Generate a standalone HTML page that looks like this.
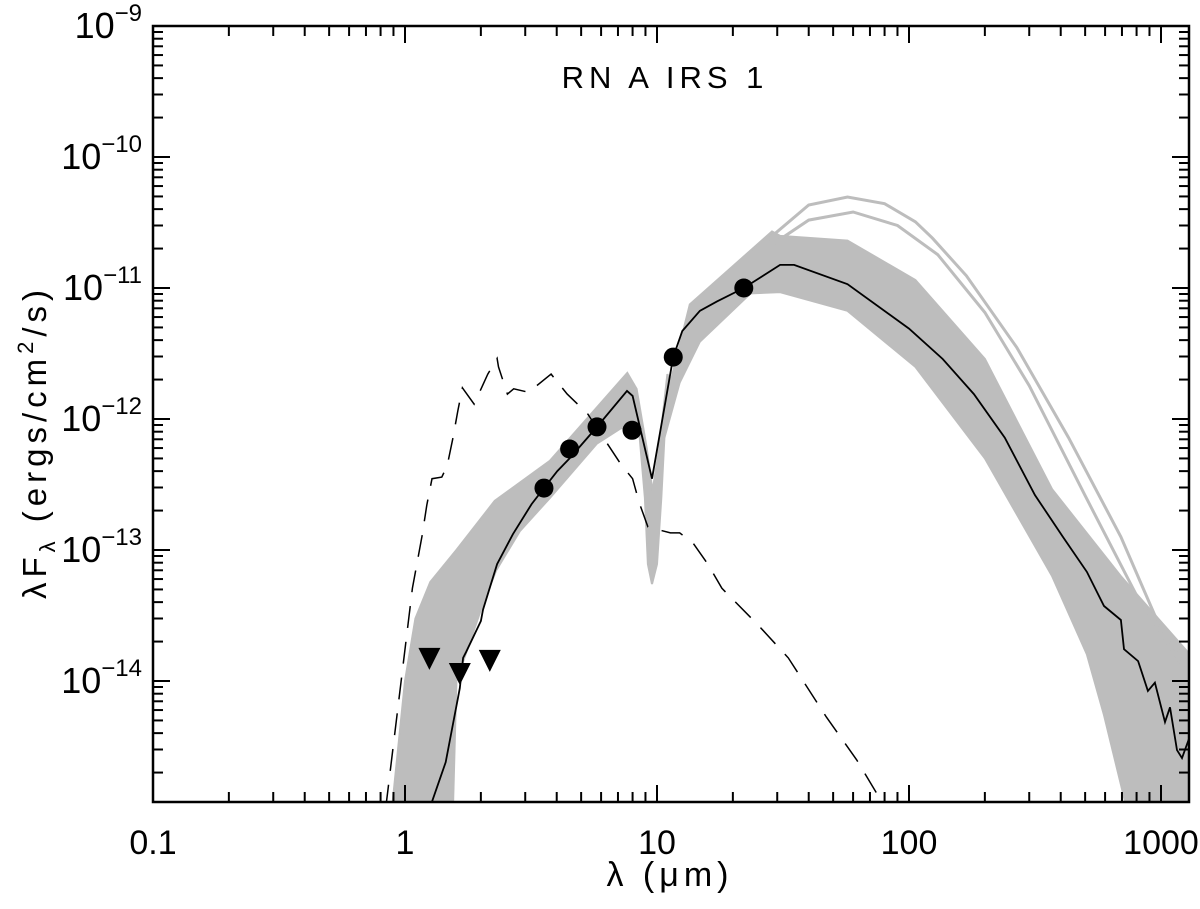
<!DOCTYPE html>
<html><head><meta charset="utf-8"><style>
html,body{margin:0;padding:0;background:#fff;}
svg{display:block;font-family:"Liberation Sans",sans-serif;}
</style></head><body>
<svg id="chart" width="1200" height="909" viewBox="0 0 1200 909" xmlns="http://www.w3.org/2000/svg">
<g id="band"></g>
<g id="outliers"></g>
<g id="dashed"></g>
<g id="best"></g>
<g id="marks"></g>
<g id="axes"></g>
<text x="665" y="88" font-size="31" letter-spacing="5" text-anchor="middle">RN A IRS 1</text>
<text x="670" y="886" font-size="34" letter-spacing="5" text-anchor="middle">λ (μm)</text>
<text transform="translate(46,442) rotate(-90)" font-size="33" letter-spacing="5" text-anchor="middle">λF<tspan font-size="22" dy="9">λ</tspan><tspan dy="-9"> (ergs/cm</tspan><tspan font-size="22" dy="-13">2</tspan><tspan dy="13">/s)</tspan></text>
</svg>
<script>
const NS="http://www.w3.org/2000/svg";
// data
const detLam=[3.56,4.5,5.78,7.96,11.6,22.1];
const detF=[2.97e-13,5.9e-13,8.7e-13,8.2e-13,2.97e-12,1.0e-11];
const ulLam=[1.25,1.65,2.17];
const ulF=[1.5e-14,1.15e-14,1.45e-14];
const bestLam=[1.27,1.45,1.65,1.70,1.75,2.0,2.04,2.32,2.68,3.18,3.56,4.02,4.5,5.78,7.6,8.0,9.55,11.6,12.6,14.8,17.3,22.1,30.8,35,57,100,136,181,240,316,408,508,594,693,713,811,887,946,1037,1086,1157,1211,1303];
const bestF=[1.15e-15,2.4e-15,8.8e-15,1.5e-14,1.67e-14,2.87e-14,3.5e-14,7.8e-14,1.32e-13,2.24e-13,2.97e-13,4.0e-13,5.0e-13,8.7e-13,1.64e-12,1.5e-12,3.5e-13,2.97e-12,4.7e-12,6.7e-12,7.9e-12,1.0e-11,1.5e-11,1.5e-11,1.07e-11,4.9e-12,2.87e-12,1.55e-12,7.2e-13,2.63e-13,1.26e-13,6.8e-14,3.74e-14,2.92e-14,1.75e-14,1.42e-14,8.4e-15,9.7e-15,4.86e-15,6.3e-15,2.97e-15,2.58e-15,3.8e-15];
const dashLam=[0.84,1.07,1.17,1.22,1.28,1.40,1.47,1.55,1.62,1.69,1.88,2.13,2.32,2.35,2.55,2.7,3.09,3.8,4.4,5.3,7.2,8.0,8.5,9.2,11.3,12.3,13.9,15.9,18.1,25.4,33.2,47,62,80];
const dashF=[1.1e-15,5.1e-14,1.3e-13,2.2e-13,3.5e-13,3.6e-13,4.4e-13,7.2e-13,1.15e-12,1.73e-12,1.3e-12,2.2e-12,2.9e-12,2.5e-12,1.55e-12,1.7e-12,1.6e-12,2.2e-12,1.55e-12,1.1e-12,4.5e-13,3.5e-13,2.3e-13,1.5e-13,1.35e-13,1.35e-13,1.13e-13,7.8e-14,5.1e-14,2.63e-14,1.5e-14,5.3e-15,2.5e-15,1.1e-15];
// left part of model band (NIR to silicate dip)
const bandAUpLam=[0.89,1.0,1.1,1.26,1.6,2.27,3.76,7.62,8.1,8.5];
const bandAUpF=[1.1e-15,1.0e-14,3.0e-14,5.7e-14,1.0e-13,2.37e-13,4.8e-13,2.25e-12,1.84e-12,8.0e-13];
const bandALoLam=[1.55,1.6,2.0,2.3,2.86,3.76,5.78,7.2,8.5];
const bandALoF=[1.1e-15,1.0e-14,3.5e-14,7.0e-14,1.4e-13,2.5e-13,6.5e-13,8.5e-13,8.0e-13];
// silicate dip: outer edge then inner edge
const dipOutLam=[8.1,8.5,8.95,9.2,9.55,10.0,10.4,10.7,11.3];
const dipOutF=[1.84e-12,8.0e-13,2.5e-13,7.8e-14,5.5e-14,7.8e-14,2.5e-13,7.2e-13,1.9e-12];
const dipInLam=[11.0,10.2,9.6,9.1,8.3];
const dipInF=[2.2e-12,6.0e-13,2.8e-13,6.0e-13,1.7e-12];
// right part of band
const bandBUpLam=[10.7,11.3,13.5,28.6,30.8,57,106,200,370,693,1300];
const bandBUpF=[7.2e-13,1.9e-12,7.5e-12,2.7e-11,2.5e-11,2.3e-11,1.15e-11,2.87e-12,2.9e-13,6.3e-14,1.6e-14];
const bandBLoLam=[10.7,12.3,14.8,23.5,30.8,57,106,200,370,508,594,728,1300];
const bandBLoF=[7.2e-13,1.9e-12,3.9e-12,9.1e-12,9.3e-12,6.7e-12,2.5e-12,5.0e-13,6.3e-14,1.6e-14,5.5e-15,1.1e-15,1.1e-15];
const outLam=[25,40,57,80,106,124,169,268,430,693,946,1290];
const outF=[2.0e-11,4.3e-11,4.95e-11,4.4e-11,3.2e-11,2.4e-11,1.24e-11,3.5e-12,7.2e-13,1.26e-13,3.16e-14,1.3e-14];
const out2Lam=[25,40,60,90,130,200,300,500,800,1290];
const out2F=[1.8e-11,3.3e-11,3.8e-11,3.0e-11,1.8e-11,6.5e-12,1.8e-12,2.6e-13,4.5e-14,1.1e-14];
const xTickVals=[0.1,1,10,100,1000];
const xTickLabels=["0.1","1","10","100","1000"];
const yTickExp=[-9,-10,-11,-12,-13,-14];

const L=153,R=1189,T=26,B=802;
const xMin=-1,dec=252,yTop=-9,ydec=131;
const X=v=>L+(Math.log10(v)-xMin)*dec;
const Y=v=>T+(yTop-Math.log10(v))*ydec;
function mk(tag,attrs,parent){const e=document.createElementNS(NS,tag);for(const k in attrs)e.setAttribute(k,attrs[k]);parent.appendChild(e);return e;}
const svg=document.getElementById('chart');
const defs=mk('defs',{},svg);
const cp=mk('clipPath',{id:'plotclip'},defs);
mk('rect',{x:L,y:T,width:R-L,height:B-T},cp);
['band','outliers','dashed','best'].forEach(id=>document.getElementById(id).setAttribute('clip-path','url(#plotclip)'));

function pts(lx,ly){return lx.map((v,i)=>X(v).toFixed(1)+','+Y(ly[i]).toFixed(1));}
const bandG=document.getElementById('band');
const pA=mk('polygon',{points:pts(bandAUpLam,bandAUpF).concat(pts(bandALoLam,bandALoF).reverse()).join(' '),fill:'#bdbdbd',stroke:'#bdbdbd','stroke-width':2},bandG);


const pD=mk('polygon',{points:pts(dipOutLam,dipOutF).concat(pts(dipInLam,dipInF)).join(' '),fill:'#bdbdbd',stroke:'#bdbdbd','stroke-width':2},bandG);


const pB=mk('polygon',{points:pts(bandBUpLam,bandBUpF).concat(pts(bandBLoLam,bandBLoF).reverse()).join(' '),fill:'#bdbdbd',stroke:'#bdbdbd','stroke-width':2},bandG);


const o1=mk('polyline',{points:pts(outLam,outF).join(' '),fill:'none',stroke:'#bdbdbd','stroke-width':3},document.getElementById('outliers'));


const o2=mk('polyline',{points:pts(out2Lam,out2F).join(' '),fill:'none',stroke:'#bdbdbd','stroke-width':3},document.getElementById('outliers'));


const d=mk('polyline',{points:pts(dashLam,dashF).join(' '),fill:'none',stroke:'#000','stroke-width':1.5,'stroke-dasharray':'22 14'},document.getElementById('dashed'));


const b=mk('polyline',{points:pts(bestLam,bestF).join(' '),fill:'none',stroke:'#000','stroke-width':1.8},document.getElementById('best'));


const marks=document.getElementById('marks');
detLam.forEach((v,i)=>{const c=mk('circle',{cx:X(v),cy:Y(detF[i]),r:9.5,fill:'#000'},marks);

});
ulLam.forEach((v,i)=>{const x=X(v),y=Y(ulF[i]);const p=mk('polygon',{points:`${x-11},${y-10} ${x+11},${y-10} ${x},${y+12}`,fill:'#000'},marks);

});
const ax=document.getElementById('axes');
mk('rect',{x:L,y:T,width:R-L,height:B-T,fill:'none',stroke:'#000','stroke-width':2.5},ax);
for(let e=-1;e<=3;e++){for(let m=1;m<=9;m++){const v=m*Math.pow(10,e);const x=X(v);if(x>R)continue;const len=m==1?17:10;
mk('line',{x1:x,y1:B,x2:x,y2:B-len,stroke:'#000','stroke-width':2},ax);
mk('line',{x1:x,y1:T,x2:x,y2:T+len,stroke:'#000','stroke-width':2},ax);}}
for(let e=-15;e<=-10;e++){for(let m=1;m<=9;m++){const v=m*Math.pow(10,e);const y=Y(v);if(y>B||y<T)continue;const len=m==1?17:10;
mk('line',{x1:L,y1:y,x2:L+len,y2:y,stroke:'#000','stroke-width':2},ax);
mk('line',{x1:R,y1:y,x2:R-len,y2:y,stroke:'#000','stroke-width':2},ax);}}
xTickVals.forEach((v,i)=>{const t=mk('text',{x:X(v),y:B+52,'font-size':34,'text-anchor':'middle'},ax);t.textContent=xTickLabels[i];

});
yTickExp.forEach(e=>{const y=Y(Math.pow(10,e));const t=mk('text',{x:142,y:y+12,'font-size':36,'text-anchor':'end'},ax);
const a=mk('tspan',{},t);a.textContent='10';const s=mk('tspan',{'font-size':24,dy:-17},t);s.textContent='−'+(-e);

});
</script>
</body></html>
